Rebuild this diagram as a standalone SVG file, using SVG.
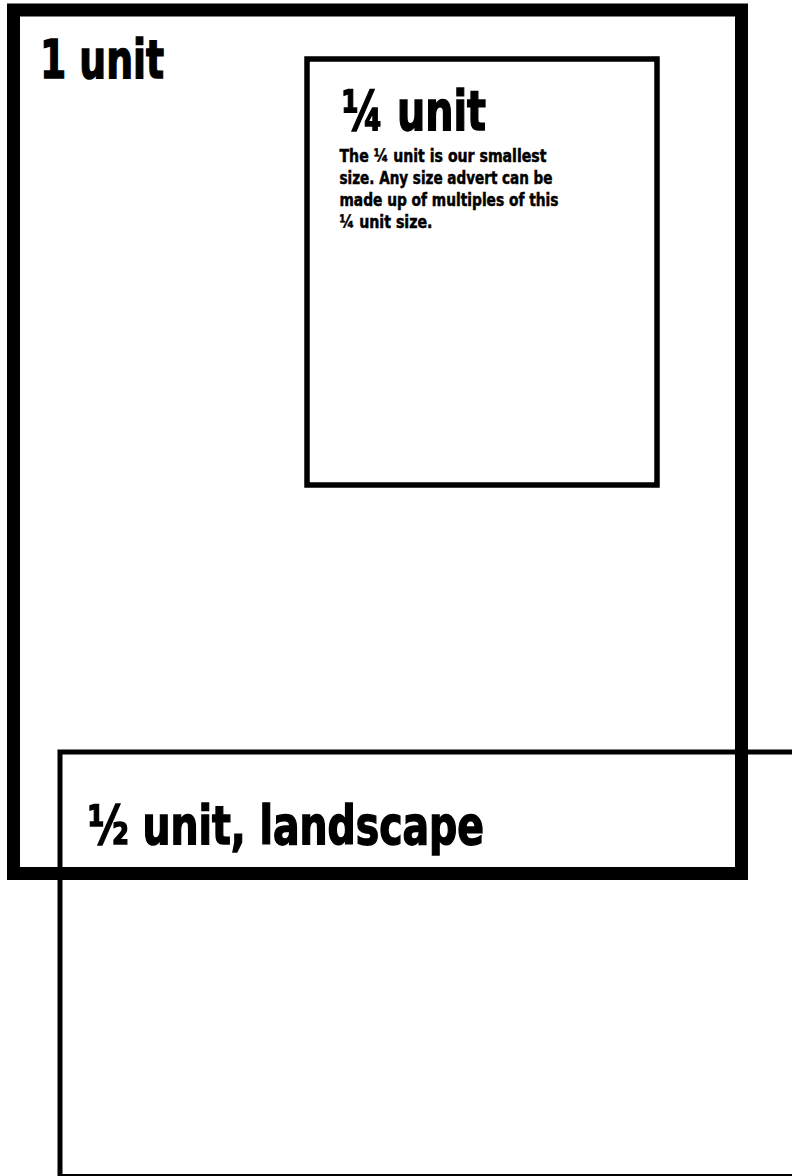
<svg xmlns="http://www.w3.org/2000/svg" width="792" height="1176" viewBox="0 0 792 1176">
  <style>
    .frame { fill: none; stroke: #000; }
    .t { font-family: "Liberation Sans Narrow", "DejaVu Sans Condensed", "Liberation Sans", sans-serif; font-weight: bold; fill: #000; stroke: #000; }
    .title { stroke-width: 1.4; }
    .body { stroke-width: 0.5; }
  </style>
  <rect x="0" y="0" width="792" height="1176" fill="#fff"/>
  <g id="unit-1">
    <rect class="frame" x="13.5" y="10" width="728" height="863.5" stroke-width="13"/>
    <text class="t title" x="40" y="78" font-size="54" textLength="124" lengthAdjust="spacingAndGlyphs">1 unit</text>
  </g>
  <g id="unit-quarter">
    <rect class="frame" x="307" y="59" width="350" height="426" stroke-width="5.5"/>
    <text class="t title" x="342" y="130" font-size="55" textLength="144" lengthAdjust="spacingAndGlyphs">¼ unit</text>
    <text class="t body" font-size="18">
      <tspan x="339.5" y="162" textLength="207" lengthAdjust="spacingAndGlyphs">The ¼ unit is our smallest</tspan>
      <tspan x="339.5" y="184" textLength="213" lengthAdjust="spacingAndGlyphs">size. Any size advert can be</tspan>
      <tspan x="339.5" y="206" textLength="219" lengthAdjust="spacingAndGlyphs">made up of multiples of this</tspan>
      <tspan x="339.5" y="228" textLength="93" lengthAdjust="spacingAndGlyphs">¼ unit size.</tspan>
    </text>
  </g>
  <g id="unit-half-landscape">
    <rect class="frame" x="60" y="752" width="760" height="424.5" stroke-width="5"/>
    <text class="t title" x="88" y="844" font-size="53" textLength="396" lengthAdjust="spacingAndGlyphs">½ unit, landscape</text>
  </g>
  <g id="connectors"/>
</svg>
